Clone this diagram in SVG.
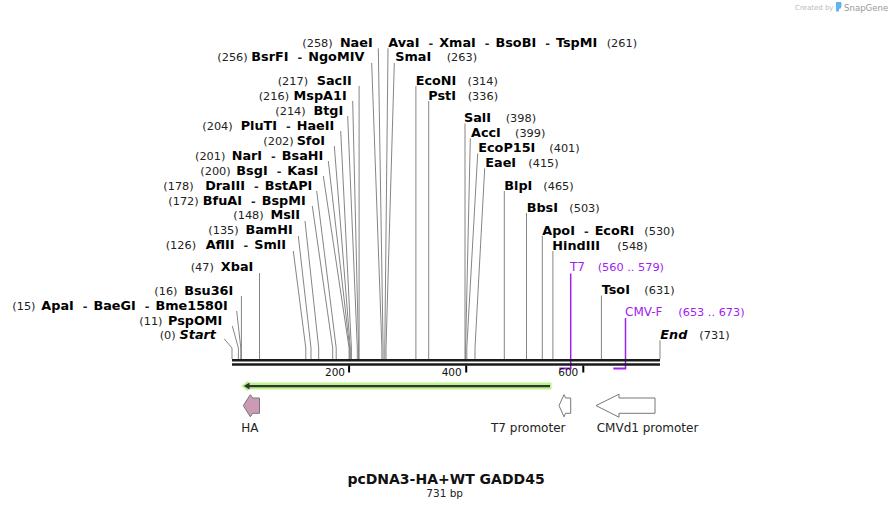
<svg xmlns="http://www.w3.org/2000/svg" width="893" height="509" viewBox="0 0 893 509">
<style>
text{font-family:"DejaVu Sans",Verdana,sans-serif}
.n{font-size:11.3px;fill:#222}
.b{font-size:12.8px;font-weight:bold;fill:#000}
.bi{font-size:12.8px;font-weight:bold;font-style:italic;fill:#000}
.d{font-size:11.3px;fill:#222}
.e{text-anchor:end}
.p{font-size:12px;fill:#a020f0}
.pn{font-size:11.3px;fill:#a020f0}
.cut{fill:none;stroke:#858585;stroke-width:1}
.prm{fill:none;stroke:#a020f0}
.bb{stroke:#1a1a1a;stroke-width:2.6}
.tick{stroke:#000;stroke-width:2}
.rl{font-size:10.5px;fill:#111;text-anchor:end}
.fl{font-size:12px;fill:#222}
.feat{stroke:#777;stroke-width:1}
</style>

<g id="watermark">
<text x="795" y="10" style="font-size:7px;fill:#bbb">Created by</text>
<path d="M836,2 h4.5 a1,1 0 0 1 1,1 v3.5 q0,2 -2.5,2.5 v2.5 h-3 z" fill="#62b5ea"/>
<text x="844" y="10.5" style="font-size:8.6px;fill:#999">SnapGene</text>
</g>

<g id="connectors">
<polyline class="cut" points="378.3,48.3 383.1,348 383.1,359"/>
<polyline class="cut" points="371.7,63 381.9,348 381.9,359"/>
<polyline class="cut" points="359.1,86 359.1,348 359.1,359"/>
<polyline class="cut" points="352.7,101 358.5,348 358.5,359"/>
<polyline class="cut" points="347.7,116 357.3,348 357.3,359"/>
<polyline class="cut" points="340.7,131 351.4,348 351.4,359"/>
<polyline class="cut" points="334.3,146 350.3,348 350.3,359"/>
<polyline class="cut" points="328.3,161 349.7,348 349.7,359"/>
<polyline class="cut" points="323.3,176 349.1,348 349.1,359"/>
<polyline class="cut" points="316.7,191 336.2,348 336.2,359"/>
<polyline class="cut" points="312.3,206 332.7,348 332.7,359"/>
<polyline class="cut" points="305,221 318.7,348 318.7,359"/>
<polyline class="cut" points="298.3,236 311,348 311,359"/>
<polyline class="cut" points="293.3,251 305.8,348 305.8,359"/>
<polyline class="cut" points="259.5,273 259.5,348 259.5,359"/>
<polyline class="cut" points="241.4,296 241.4,348 241.4,359"/>
<polyline class="cut" points="236.7,311 240.8,348 240.8,359"/>
<polyline class="cut" points="232.3,326 238.4,348 238.4,359"/>
<polyline class="cut" points="224.3,339 232,348 232,359"/>
<polyline class="cut" points="388,48.3 384.8,348 384.8,359"/>
<polyline class="cut" points="394.3,63 386,348 386,359"/>
<polyline class="cut" points="415.9,86 415.9,359"/>
<polyline class="cut" points="428.7,101 428.7,359"/>
<polyline class="cut" points="465,123.5 465,359"/>
<polyline class="cut" points="470.3,138.5 465.6,348 465.6,359"/>
<polyline class="cut" points="477.7,153.5 466.8,348 466.8,359"/>
<polyline class="cut" points="484.7,168.3 475,348 475,359"/>
<polyline class="cut" points="504.3,191 504.3,359"/>
<polyline class="cut" points="526.5,213 526.5,359"/>
<polyline class="cut" points="542.3,236 542.3,359"/>
<polyline class="cut" points="552.9,251 552.9,359"/>
<polyline class="cut" points="601.4,295.5 601.4,359"/>
<polyline class="cut" points="660,340.3 660,359"/>
<polyline class="prm" stroke-width="1.5" points="570.7,273.5 570.7,368.5"/>
<polyline class="prm" stroke-width="2" points="559.3,368.5 571.4,368.5"/>
<polyline class="prm" stroke-width="1.5" points="625.5,318 625.5,368.5"/>
<polyline class="prm" stroke-width="2" points="613.3,368.5 626.2,368.5"/>
</g>

<g id="backbone">
<line class="bb" x1="232" y1="360.3" x2="660" y2="360.3"/>
<line class="bb" x1="232" y1="364.5" x2="660" y2="364.5"/>
<line class="tick" x1="349.1" y1="365.5" x2="349.1" y2="372.5"/>
<line class="tick" x1="466.2" y1="365.5" x2="466.2" y2="372.5"/>
<line class="tick" x1="583.3" y1="365.5" x2="583.3" y2="372.5"/>
<text class="rl" x="345" y="376">200</text>
<text class="rl" x="461.7" y="376">400</text>
<text class="rl" x="578.3" y="376">600</text>
</g>

<g id="site-NaeI"><text class="n" x="302.3" y="46.9">(258)</text><text class="b e" x="372.7" y="46.9">NaeI</text></g>
<g id="site-BsrFI"><text class="n" x="217.3" y="61.3">(256)</text><text class="b e" x="364.3" y="61.3">BsrFI<tspan class="d" dx="9">-</tspan><tspan dx="6">NgoMIV</tspan></text></g>
<g id="site-SacII"><text class="n" x="277.7" y="84.6">(217)</text><text class="b e" x="351.7" y="84.6">SacII</text></g>
<g id="site-MspA1I"><text class="n" x="258.7" y="99.6">(216)</text><text class="b e" x="346.7" y="99.6">MspA1I</text></g>
<g id="site-BtgI"><text class="n" x="275.3" y="114.6">(214)</text><text class="b e" x="343.3" y="114.6">BtgI</text></g>
<g id="site-PluTI"><text class="n" x="202.3" y="129.6">(204)</text><text class="b e" x="334.3" y="129.6">PluTI<tspan class="d" dx="9">-</tspan><tspan dx="6">HaeII</tspan></text></g>
<g id="site-SfoI"><text class="n" x="263.3" y="144.6">(202)</text><text class="b e" x="325" y="144.6">SfoI</text></g>
<g id="site-NarI"><text class="n" x="195" y="159.6">(201)</text><text class="b e" x="323.3" y="159.6">NarI<tspan class="d" dx="9">-</tspan><tspan dx="6">BsaHI</tspan></text></g>
<g id="site-BsgI"><text class="n" x="200.3" y="174.6">(200)</text><text class="b e" x="318.3" y="174.6">BsgI<tspan class="d" dx="9">-</tspan><tspan dx="6">KasI</tspan></text></g>
<g id="site-DraIII"><text class="n" x="163.3" y="189.6">(178)</text><text class="b e" x="312.3" y="189.6">DraIII<tspan class="d" dx="9">-</tspan><tspan dx="6">BstAPI</tspan></text></g>
<g id="site-BfuAI"><text class="n" x="168.3" y="204.6">(172)</text><text class="b e" x="305.7" y="204.6">BfuAI<tspan class="d" dx="9">-</tspan><tspan dx="6">BspMI</tspan></text></g>
<g id="site-MslI"><text class="n" x="233.3" y="219.4">(148)</text><text class="b e" x="300" y="219.4">MslI</text></g>
<g id="site-BamHI"><text class="n" x="208.3" y="234.4">(135)</text><text class="b e" x="292.7" y="234.4">BamHI</text></g>
<g id="site-AflII"><text class="n" x="165.7" y="249.4">(126)</text><text class="b e" x="286" y="249.4">AflII<tspan class="d" dx="9">-</tspan><tspan dx="6">SmlI</tspan></text></g>
<g id="site-XbaI"><text class="n" x="190.7" y="271.3">(47)</text><text class="b e" x="253.3" y="271.3">XbaI</text></g>
<g id="site-Bsu36I"><text class="n" x="154.3" y="294.6">(16)</text><text class="b e" x="233.3" y="294.6">Bsu36I</text></g>
<g id="site-ApaI"><text class="n" x="12.3" y="309.6">(15)</text><text class="b e" x="227.7" y="309.6">ApaI<tspan class="d" dx="9">-</tspan><tspan dx="6">BaeGI</tspan><tspan class="d" dx="9">-</tspan><tspan dx="6">Bme1580I</tspan></text></g>
<g id="site-PspOMI"><text class="n" x="139.3" y="324.6">(11)</text><text class="b e" x="222.3" y="324.6">PspOMI</text></g>
<g id="site-Start"><text class="n" x="159.7" y="339.1">(0)</text><text class="bi e" x="216" y="339.1">Start</text></g>

<g id="site-AvaI"><text class="b" x="388.3" y="46.9">AvaI<tspan class="d" dx="9">-</tspan><tspan dx="6">XmaI</tspan><tspan class="d" dx="9">-</tspan><tspan dx="6">BsoBI</tspan><tspan class="d" dx="9">-</tspan><tspan dx="6">TspMI</tspan></text><text class="n" x="606.7" y="46.9">(261)</text></g>
<g id="site-SmaI"><text class="b" x="395.3" y="61.3">SmaI</text><text class="n" x="446.7" y="61.3">(263)</text></g>
<g id="site-EcoNI"><text class="b" x="415.7" y="84.6">EcoNI</text><text class="n" x="467.5" y="84.6">(314)</text></g>
<g id="site-PstI"><text class="b" x="428.3" y="99.6">PstI</text><text class="n" x="467.7" y="99.6">(336)</text></g>
<g id="site-SalI"><text class="b" x="464" y="122.1">SalI</text><text class="n" x="505.7" y="122.1">(398)</text></g>
<g id="site-AccI"><text class="b" x="471" y="137.1">AccI</text><text class="n" x="515" y="137.1">(399)</text></g>
<g id="site-EcoP15I"><text class="b" x="478.3" y="152.1">EcoP15I</text><text class="n" x="549.3" y="152.1">(401)</text></g>
<g id="site-EaeI"><text class="b" x="485.3" y="166.9">EaeI</text><text class="n" x="528.3" y="166.9">(415)</text></g>
<g id="site-BlpI"><text class="b" x="504.3" y="189.6">BlpI</text><text class="n" x="543.3" y="189.6">(465)</text></g>
<g id="site-BbsI"><text class="b" x="526.7" y="211.6">BbsI</text><text class="n" x="569.3" y="211.6">(503)</text></g>
<g id="site-ApoI"><text class="b" x="542.3" y="234.6">ApoI<tspan class="d" dx="9">-</tspan><tspan dx="6">EcoRI</tspan></text><text class="n" x="644.3" y="234.6">(530)</text></g>
<g id="site-HindIII"><text class="b" x="552.3" y="249.6">HindIII</text><text class="n" x="617.3" y="249.6">(548)</text></g>
<g id="primer-T7"><text class="p" x="570" y="271.3">T7</text><text class="pn" x="597.7" y="271.3">(560 .. 579)</text></g>
<g id="site-TsoI"><text class="b" x="601.7" y="294.1">TsoI</text><text class="n" x="644.3" y="294.1">(631)</text></g>
<g id="primer-CMV-F"><text class="p" x="625" y="316.4">CMV-F</text><text class="pn" x="678.3" y="316.4">(653 .. 673)</text></g>
<g id="site-End"><text class="bi" x="660.3" y="339.1">End</text><text class="n" x="699.3" y="339.1">(731)</text></g>

<g id="orf">
<polygon points="241,386 248,380.8 248,382.5 551.5,382.5 551.5,389.5 248,389.5 248,391.2" fill="#bdf28f"/>
<line x1="247" y1="386.1" x2="550" y2="386.1" stroke="#2f3a2f" stroke-width="2.4"/>
<polygon points="243.8,386.1 249.5,382.6 249.5,389.6" fill="#2f3a2f"/>
</g>

<g id="feature-HA">
<polygon class="feat" points="243.3,405.6 250.3,394.7 252.7,398 259.5,398 259.5,413.3 252.7,413.3 250.3,416.8" fill="#cc9ab5"/>
<text class="fl" x="241.3" y="432">HA</text>
</g>
<g id="feature-T7-promoter">
<polygon class="feat" points="559,405.6 564,394.7 565.5,398 570.7,398 570.7,413.3 565.5,413.3 564,416.8" fill="#fff"/>
<text class="fl" x="491" y="432">T7 promoter</text>
</g>
<g id="feature-CMVd1-promoter">
<polygon class="feat" points="596,405.6 619,394.2 619,398 655,398 655,413.3 619,413.3 619,417.2" fill="#fff"/>
<text class="fl" x="596.7" y="432">CMVd1 promoter</text>
</g>

<g id="title">
<text x="446" y="484.3" text-anchor="middle" style="font-size:14px;font-weight:bold;fill:#111">pcDNA3-HA+WT GADD45</text>
<text x="444.7" y="496.5" text-anchor="middle" style="font-size:10.5px;fill:#222">731 bp</text>
</g>
</svg>
